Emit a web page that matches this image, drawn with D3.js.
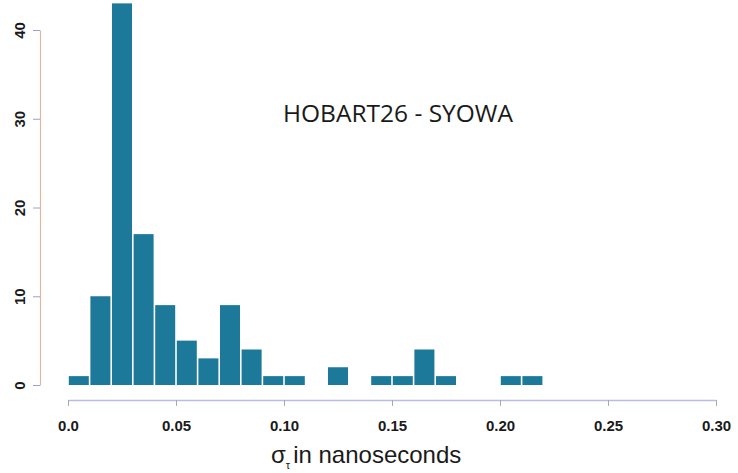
<!DOCTYPE html>
<html>
<head>
<meta charset="utf-8">
<script src="https://cdn.jsdelivr.net/npm/d3@7"></script>
<style>
  html, body { margin: 0; padding: 0; background: #fff; }
  svg { display: block; }
</style>
</head>
<body>
<svg id="chart" width="738" height="473"></svg>
<script>
// Histogram of sigma_tau (ns), bins of width 0.01 starting at 0
const binStarts = [0.00, 0.01, 0.02, 0.03, 0.04, 0.05, 0.06, 0.07, 0.08, 0.09, 0.10,
                   0.11, 0.12, 0.13, 0.14, 0.15, 0.16, 0.17, 0.18, 0.19, 0.20, 0.21];
const counts    = [1, 10, 43, 17, 9, 5, 3, 9, 4, 1, 1,
                   0, 2, 0, 1, 1, 4, 1, 0, 0, 1, 1];
const binWidth = 0.01;
const xTicks = [0.0, 0.05, 0.10, 0.15, 0.20, 0.25, 0.30];
const xTickLabels = ["0.0", "0.05", "0.10", "0.15", "0.20", "0.25", "0.30"];
const yTicks = [0, 10, 20, 30, 40];
const title = "HOBART26 - SYOWA";

const svg = d3.select("#chart");

const x = d3.scaleLinear().domain([0, 0.30]).range([68, 716]);
const y = d3.scaleLinear().domain([0, 40]).range([385, 30]);

const barColor = "#1d7999";

// bars
svg.append("g")
  .selectAll("rect")
  .data(binStarts.map((b, i) => ({ b, c: counts[i] })).filter(d => d.c > 0))
  .join("rect")
  .attr("x", d => x(d.b) + 0.8)
  .attr("width", d => x(d.b + binWidth) - x(d.b) - 1.6)
  .attr("y", d => y(d.c))
  .attr("height", d => y(0) - y(d.c))
  .attr("fill", barColor);

// x axis
const xAxis = svg.append("g")
  .attr("transform", "translate(0,400)")
  .call(d3.axisBottom(x).tickValues(xTicks).tickFormat((d, i) => xTickLabels[i]).tickSize(6).tickPadding(14).tickSizeOuter(0));
xAxis.select(".domain").attr("stroke", "#b9bde3").attr("stroke-width", 1.3);
xAxis.selectAll(".tick line").attr("stroke", "#a8a8b8");
xAxis.selectAll(".tick text")
  .attr("fill", "#1a1a1a")
  .style("font-family", "'Liberation Sans', Arial, sans-serif")
  .style("font-size", "15px")
  .style("font-weight", "bold");

// y axis
const yAxis = svg.append("g")
  .attr("transform", "translate(40,0)")
  .call(d3.axisLeft(y).tickValues(yTicks).tickSize(7).tickPadding(0).tickSizeOuter(0));
yAxis.select(".domain").attr("stroke", "#d8b8a4").attr("stroke-width", 1.2);
yAxis.selectAll(".tick line").attr("stroke", "#9aa4c8");
yAxis.selectAll(".tick text")
  .attr("x", 0).attr("dy", null)
  .attr("transform", "translate(-21,0) rotate(-90)")
  .attr("text-anchor", "middle")
  .attr("dominant-baseline", "central")
  .attr("fill", "#1a1a1a")
  .style("font-family", "'Liberation Sans', Arial, sans-serif")
  .style("font-size", "15px")
  .style("font-weight", "bold");

// x axis title with subscript tau
const xt = svg.append("text")
  .attr("x", 271).attr("y", 463)
  .attr("fill", "#1a1a1a")
  .style("font-family", "'Liberation Sans', Arial, sans-serif")
  .style("font-size", "24px");
xt.append("tspan").text("σ");
xt.append("tspan").attr("dy", 6).style("font-size", "11px").text("τ");
xt.append("tspan").attr("dy", -6).attr("dx", 3).text("in nanoseconds");

// plot title
svg.append("text")
  .attr("x", 398).attr("y", 122)
  .attr("text-anchor", "middle")
  .attr("fill", "#1a1a1a")
  .style("font-family", "'Open Sans', sans-serif")
  .style("font-size", "24.5px")
  .text(title);
</script>
</body>
</html>
